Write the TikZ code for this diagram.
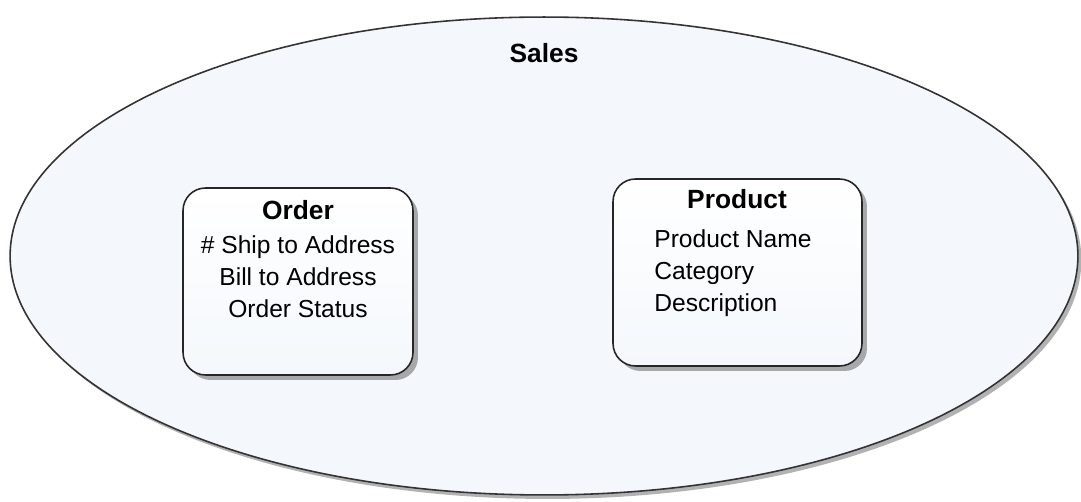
\documentclass[tikz,border=0pt]{standalone}
\usepackage{fontspec}
\setmainfont{Liberation Sans}
\usetikzlibrary{shapes.geometric, shadows, positioning}
\definecolor{salesfill}{HTML}{F4F8FC}

\begin{document}
\begin{tikzpicture}[x=0.02cm, y=-0.02cm, node distance=0.3cm]
    \tikzset{
      context/.style={ellipse, draw=black!80, line width=0.9pt, fill=salesfill,
        minimum width=21.36cm, minimum height=9.56cm, inner sep=0pt,
        drop shadow={shadow xshift=0.07cm, shadow yshift=-0.08cm, fill=black!60}},
      entity/.style={rectangle, rounded corners=0.45cm, draw=black!85, line width=0.9pt,
        top color=white, bottom color=salesfill,
        minimum height=3.74cm, inner sep=0pt,
        drop shadow={shadow xshift=0.1cm, shadow yshift=-0.1cm, fill=black!65}},
      title/.style={font={\bfseries\fontsize{15}{18}\selectfont}, inner sep=0pt},
      attrs/.style={font={\fontsize{14}{18.2}\selectfont}, inner sep=0pt}
    }
    \useasboundingbox (0,0) rectangle (1081,502);
    % bounded context
    \node[context] (sales) at (544,256) {};
    \node[title, anchor=base] (salestitle) at (544,63) {Sales};
    % entities
    \node[entity, minimum width=4.6cm] (order) at (298,281.5) {};
    \node[entity, minimum width=4.98cm] (product) at (737.5,272.5) {};
    \node[title, anchor=base] (ordertitle) at (298,220) {Order};
    \node[attrs, align=center, below=of ordertitle] (orderattrs)
      {\# Ship to Address\\Bill to Address\\Order Status};
    \node[title, anchor=base] (producttitle) at (737,209) {Product};
    \node[attrs, align=left, anchor=north west] (productattrs) at (654,229)
      {Product Name\\Category\\Description};
\end{tikzpicture}
\end{document}
